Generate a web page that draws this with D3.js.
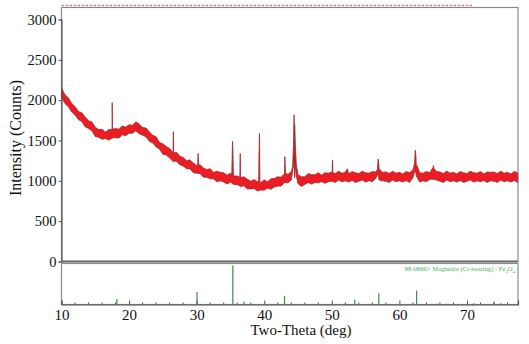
<!DOCTYPE html>
<html><head><meta charset="utf-8">
<script src="https://cdn.jsdelivr.net/npm/d3@7"></script>
<style>
html,body{margin:0;padding:0;background:#fff;}
svg{display:block;}
svg text{font-family:"Liberation Serif","Times New Roman",serif !important;}
</style></head>
<body><svg id="c" width="529" height="344"></svg>
<script>
// ---- data ----
const bandStart = 10, bandStep = 0.5;
// upper edge of the noisy measured band (counts), 10° .. 77.5° every 0.5°
const bandHigh = [
2150,2070,2030,1960,1920,1860,1845,1790,1745,1730,1665,1635,1640,1605,1635,1635,
1650,1640,1680,1665,1695,1690,1730,1705,1660,1655,1605,1565,1545,1475,1460,1425,
1400,1350,1355,1305,1290,1250,1260,1220,1190,1200,1160,1140,1150,1105,1120,1105,
1100,1070,1095,1060,1060,1030,1050,1020,995,1015,990,980,1010,990,1025,1030,
1050,1045,1090,1080,1115,1135,1075,1050,1050,1090,1075,1075,1100,1070,1100,1095,
1110,1090,1120,1095,1105,1085,1115,1100,1090,1120,1100,1095,1115,1110,1140,1105,
1110,1090,1120,1095,1105,1085,1115,1100,1135,1170,1100,1095,1115,1100,1150,1115,
1110,1090,1120,1095,1105,1085,1115,1100,1090,1120,1100,1095,1115,1085,1110,1105,
1110,1090,1120,1095,1105,1085,1115,1100
];
// lower edge of the noisy band
const bandLow = [
2035,1960,1920,1855,1815,1760,1735,1670,1650,1620,1550,1540,1515,1525,1505,1530,
1535,1530,1570,1560,1590,1590,1620,1585,1565,1545,1490,1470,1420,1395,1330,1320,
1285,1240,1245,1200,1185,1150,1150,1100,1095,1090,1045,1045,1025,1025,990,1000,
985,960,985,955,955,930,940,900,900,905,875,885,885,910,895,925,
935,935,980,975,1010,1035,965,930,955,980,960,980,975,990,970,990,
995,980,1010,990,1000,985,1005,980,995,1010,985,1000,990,1030,1010,1000,
995,980,1010,990,1000,985,1005,980,1040,1060,985,1000,990,1020,1020,1010,
995,980,1010,990,1000,985,1005,980,995,1010,985,1000,990,1005,980,1000,
995,980,1010,990,1000,985,1005,980
];
// sharp reflections on the upper edge: [2θ, counts]
const peaksHigh = [
[17.46,1640],[17.5,1970],[17.54,1640],
[26.5,1350],[26.55,1610],[26.6,1345],
[30.15,1200],[30.22,1340],[30.3,1195],
[35.2,1085],[35.3,1490],[35.36,1400],[35.42,1120],
[36.38,1045],[36.45,1340],[36.52,1040],
[39.18,1000],[39.22,1310],[39.3,1590],[39.36,995],
[42.9,1080],[43.05,1300],[43.15,1095],
[44.2,1180],[44.33,1450],[44.42,1820],[44.5,1700],[44.6,1450],[44.75,1200],
[50.05,1105],[50.1,1260],[50.16,1100],
[52.3,1150],
[56.75,1140],[56.85,1270],[56.95,1210],[57.05,1145],
[62.25,1220],[62.35,1380],[62.45,1300],[62.6,1190],
[64.9,1155],[65.0,1190],[65.15,1150]
];
// where the band's lower edge lifts under the broad reflections
const peaksLow = [
[44.35,1200],[44.45,1330],[44.55,1250],[44.7,1080],
[56.85,1090],[62.35,1140]
];
// reference pattern 88-0866 Magnetite (Cr-bearing): [2θ, relative intensity]
const sticks = [
[18.2,14],[30.05,32],[35.35,100],[37.0,8],[43.0,22],[53.4,12],[56.95,29],
[62.55,36],[65.6,2],[66.9,2],[71.0,3],[74.0,8],[75.0,3]
];
const yTicks = [0,500,1000,1500,2000,2500,3000];
const xTicks = [10,20,30,40,50,60,70];
const xMinor = [12,14,16,18,22,24,26,28,32,34,36,38,42,44,46,48,52,54,56,58,62,64,66,68,72,74,76];

// ---- layout ----
const svg = d3.select("#c");
const L = 61.5, R = 518, Ttop = 7.5, B0 = 261.5, LT = 263.5, LB = 304.5;
const x = d3.scaleLinear().domain([10,77.55]).range([L,R]);
const y = d3.scaleLinear().domain([0,3000]).range([B0,19.5]);
const ys = d3.scaleLinear().domain([0,100]).range([LB,265.5]);

const hi = bandHigh.map((c,i)=>[bandStart+i*bandStep,c]).concat(peaksHigh).sort((a,b)=>a[0]-b[0]);
const lo = bandLow.map((c,i)=>[bandStart+i*bandStep,c]).concat(peaksLow).sort((a,b)=>a[0]-b[0]);
const poly = hi.concat(lo.slice().reverse());

// dashed top line
svg.append("line").attr("x1",L).attr("x2",472).attr("y1",5.5).attr("y2",5.5)
  .attr("stroke","#d08888").attr("stroke-width",1.5).attr("stroke-dasharray","2.5,1.5");

// main frame
svg.append("rect").attr("x",L).attr("y",Ttop).attr("width",R-L).attr("height",B0-Ttop)
  .attr("fill","none").attr("stroke","#8a8a8a").attr("stroke-width",1.2);

// pattern band
const line = d3.line().x(d=>x(d[0])).y(d=>y(d[1]));
svg.append("path").attr("d",line(poly)+"Z")
  .attr("fill","#ec1c24").attr("stroke","#a02a2a").attr("stroke-width",0.8)
  .attr("stroke-linejoin","miter");

// y axis
const yAxis = d3.axisLeft(y).tickValues(yTicks).tickFormat(d3.format("d")).tickSize(3).tickPadding(2);
const gy = svg.append("g").attr("transform",`translate(${L},0)`).call(yAxis);
gy.select(".domain").attr("stroke","#555").attr("stroke-width",1.2);
gy.selectAll(".tick line").attr("stroke","#555");
gy.selectAll("text").attr("font-size",14.5).attr("fill","#111");

// bottom line of main panel
svg.append("line").attr("x1",L).attr("x2",R).attr("y1",B0).attr("y2",B0)
  .attr("stroke","#666").attr("stroke-width",1.8);

// lower panel
svg.append("rect").attr("x",L).attr("y",LT).attr("width",R-L).attr("height",LB-LT)
  .attr("fill","none").attr("stroke","#8a8a8a").attr("stroke-width",1.2);
svg.selectAll(".stick").data(sticks).enter().append("line")
  .attr("x1",d=>x(d[0])).attr("x2",d=>x(d[0]))
  .attr("y1",LB).attr("y2",d=>ys(d[1]))
  .attr("stroke","#3a8f4e").attr("stroke-width",1.2);
const lab = svg.append("text").attr("x",515).attr("y",271).attr("text-anchor","end")
  .attr("font-size",6.6).attr("fill","#3cb46e");
lab.append("tspan").text("88-0866> Magnetite (Cr-bearing) - Fe");
lab.append("tspan").attr("font-size",4.8).attr("dy",1.5).text("3");
lab.append("tspan").attr("dy",-1.5).text("O");
lab.append("tspan").attr("font-size",4.8).attr("dy",1.5).text("4");

// x axis
const xAxis = d3.axisBottom(x).tickValues(xTicks).tickSize(-4).tickPadding(5);
const gx = svg.append("g").attr("transform",`translate(0,${LB})`).call(xAxis);
gx.select(".domain").attr("stroke","#555").attr("stroke-width",1.2);
gx.selectAll(".tick line").attr("stroke","#555");
gx.selectAll("text").attr("font-size",15).attr("fill","#111");
gx.selectAll(".minor").data(xMinor).enter().append("line")
  .attr("x1",d=>x(d)).attr("x2",d=>x(d)).attr("y1",0).attr("y2",-2)
  .attr("stroke","#555");

// titles
svg.append("text").attr("x",301).attr("y",335).attr("text-anchor","middle")
  .attr("font-size",15).attr("fill","#111").text("Two-Theta (deg)");
svg.append("text").attr("transform","translate(21,138) rotate(-90)")
  .attr("text-anchor","middle").attr("font-size",16).attr("fill","#111")
  .text("Intensity (Counts)");
</script></body></html>
